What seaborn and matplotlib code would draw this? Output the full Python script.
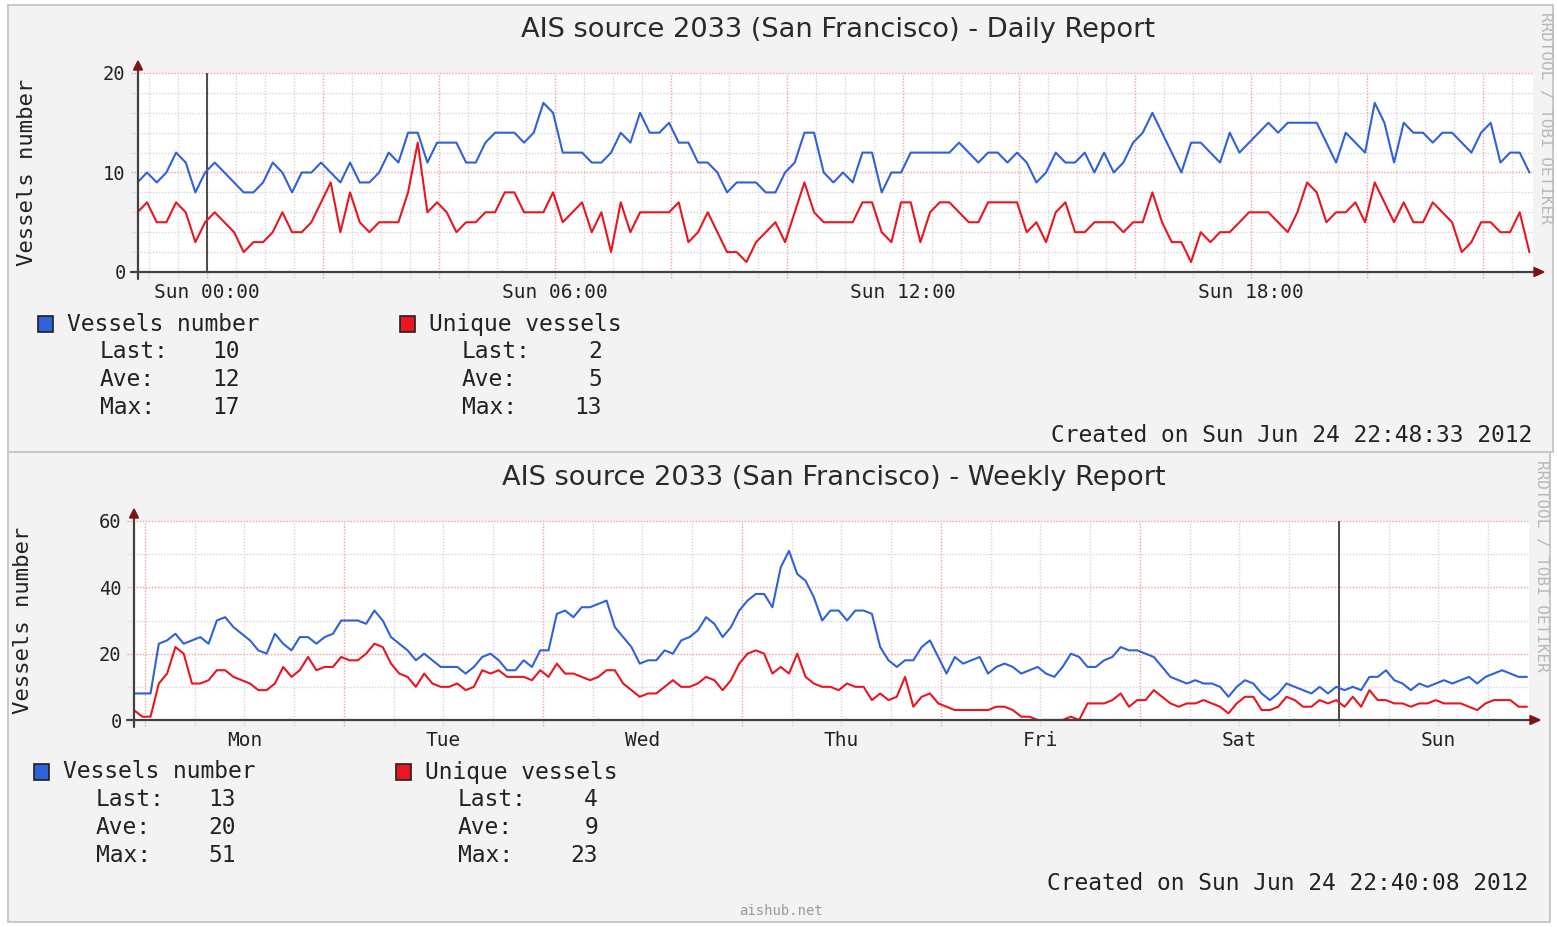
import numpy as np
import pandas as pd
import matplotlib
matplotlib.use("Agg")
import matplotlib.pyplot as plt
import seaborn as sns
from matplotlib.patches import Rectangle, Polygon
from matplotlib.lines import Line2D

# ------------------------------------------------------------------
# Daily report: 10-minute samples, Sat 22:48 -> Sun 22:48
# ------------------------------------------------------------------
daily_vessels = [
    9, 10, 9, 10, 12, 11, 8, 10, 11, 10, 9, 8, 8, 9, 11, 10, 8, 10, 10, 11,
    10, 9, 11, 9, 9, 10, 12, 11, 14, 14, 11, 13, 13, 13, 11, 11, 13, 14, 14, 14,
    13, 14, 17, 16, 12, 12, 12, 11, 11, 12, 14, 13, 16, 14, 14, 15, 13, 13, 11, 11,
    10, 8, 9, 9, 9, 8, 8, 10, 11, 14, 14, 10, 9, 10, 9, 12, 12, 8, 10, 10,
    12, 12, 12, 12, 12, 13, 12, 11, 12, 12, 11, 12,
    11, 9, 10, 12, 11, 11, 12, 10, 12, 10, 11, 13, 14, 16, 14, 12, 10, 13, 13, 12,
    11, 14, 12, 13, 14, 15, 14, 15, 15, 15, 15, 13, 11, 14, 13, 12, 17, 15, 11, 15,
    14, 14, 13, 14, 14, 13, 12, 14, 15, 11, 12, 12, 10,
]
daily_unique = [
    6, 7, 5, 5, 7, 6, 3, 5, 6, 5, 4, 2, 3, 3, 4, 6, 4, 4, 5, 7,
    9, 4, 8, 5, 4, 5, 5, 5, 8, 13, 6, 7, 6, 4, 5, 5, 6, 6, 8, 8,
    6, 6, 6, 8, 5, 6, 7, 4, 6, 2, 7, 4, 6, 6, 6, 6, 7, 3, 4, 6,
    4, 2, 2, 1, 3, 4, 5, 3, 6, 9, 6, 5, 5, 5, 5, 7, 7, 4, 3, 7,
    7, 3, 6, 7, 7, 6, 5, 5, 7, 7, 7, 7,
    4, 5, 3, 6, 7, 4, 4, 5, 5, 5, 4, 5, 5, 8, 5, 3, 3, 1, 4, 3,
    4, 4, 5, 6, 6, 6, 5, 4, 6, 9, 8, 5, 6, 6, 7, 5, 9, 7, 5, 7,
    5, 5, 7, 6, 5, 2, 3, 5, 5, 4, 4, 6, 2,
]
daily_start_hour = -1.2          # hours relative to Sun 00:00
daily_step_hours = 1 / 6
daily_tick_hours = [0, 6, 12, 18]
daily_tick_labels = ["Sun 00:00", "Sun 06:00", "Sun 12:00", "Sun 18:00"]
daily_vessels_stats = [10, 12, 17]
daily_unique_stats = [2, 5, 13]
daily_title = "AIS source 2033 (San Francisco) - Daily Report"
daily_created = "Created on Sun Jun 24 22:48:33 2012"

# ------------------------------------------------------------------
# Weekly report: hourly samples, Sun 22:40 -> Sun 22:40
# ------------------------------------------------------------------
weekly_vessels = [
    8, 8, 8, 23, 24, 26, 23, 24, 25, 23, 30, 31, 28, 26, 24, 21, 20, 26, 23, 21,
    25, 25, 23, 25, 26, 30, 30, 30, 29, 33, 30, 25, 23, 21, 18, 20, 18, 16, 16, 16,
    14, 16, 19, 20, 18, 15, 15,
    18, 16, 21, 21, 32, 33, 31, 34, 34, 35, 36, 28, 25, 22, 17, 18, 18, 21, 20, 24,
    25, 27, 31, 29, 25, 28, 33, 36, 38, 38, 34, 46, 51, 44, 42, 37, 30, 33, 33, 30,
    33, 33, 32, 22, 18, 16, 18, 18, 22, 24, 19, 14, 19, 17, 18, 19, 14, 16, 17, 16,
    14, 15, 16, 14, 13, 16, 20, 19, 16, 16, 18, 19, 22, 21, 21, 20, 19, 16, 13, 12,
    11, 12, 11, 11, 10, 7, 10, 12, 11, 8, 6, 8, 11, 10, 9, 8, 10, 8, 10, 9,
    10, 9, 13, 13, 15, 12, 11, 9, 11, 10, 11, 12, 11, 12, 13, 11, 13, 14, 15, 14,
    13, 13,
]
weekly_unique = [
    3, 1, 1, 11, 14, 22, 20, 11, 11, 12, 15, 15, 13, 12, 11, 9, 9, 11, 16, 13,
    15, 19, 15, 16, 16, 19, 18, 18, 20, 23, 22, 17, 14, 13, 10, 14, 11, 10, 10, 11,
    9, 10, 15, 14, 15, 13, 13,
    13, 12, 15, 13, 17, 14, 14, 13, 12, 13, 15, 15, 11, 9, 7, 8, 8, 10, 12, 10,
    10, 11, 13, 12, 9, 12, 17, 20, 21, 20, 14, 16, 14, 20, 13, 11, 10, 10, 9, 11,
    10, 10, 6, 8, 6, 7, 13, 4, 7, 8, 5, 4, 3, 3, 3, 3, 3, 4, 4, 3,
    1, 1, 0, 0, 0, 0, 1, 0, 5, 5, 5, 6, 8, 4, 6, 6, 9, 7, 5, 4,
    5, 5, 6, 5, 4, 2, 5, 7, 7, 3, 3, 4, 7, 6, 4, 4, 6, 5, 6, 4,
    7, 4, 9, 6, 6, 5, 5, 4, 5, 5, 6, 5, 5, 5, 4, 3, 5, 6, 6, 6,
    4, 4,
]
weekly_start_hour = -4 / 3       # hours relative to Mon 00:00
weekly_step_hours = 1.0
weekly_day_labels = ["Mon", "Tue", "Wed", "Thu", "Fri", "Sat", "Sun"]
weekly_vessels_stats = [13, 20, 51]
weekly_unique_stats = [4, 9, 23]
weekly_title = "AIS source 2033 (San Francisco) - Weekly Report"
weekly_created = "Created on Sun Jun 24 22:40:08 2012"

series_names = ["Vessels number", "Unique vessels"]
stat_names = ["Last:", "Ave:", "Max:"]
y_label = "Vessels number"
side_credit = "RRDTOOL / TOBI OETIKER"
footer = "aishub.net"

# ------------------------------------------------------------------
W, H = 1557, 927
BLUE = "#2f62d8"
RED = "#e81620"
MINOR = "#d6d6d6"
MAJOR = "#f0a0a0"
PANEL_BG = "#f3f3f3"
PANEL_EDGE = "#c8c8c8"
AXIS = "#404040"
ARROW = "#7a1414"
TEXT = "#222222"
MONO = "DejaVu Sans Mono"
SANS = "DejaVu Sans"

sns.set_style("white")
plt.rcParams["font.family"] = ["DejaVu Sans"]


def fx(x):
    return x / W


def fy(y):
    return 1 - y / H


fig = plt.figure(figsize=(W / 100, H / 100), dpi=100)
fig.patch.set_facecolor("white")


def panel_box(x0, y0, x1, y1):
    fig.add_artist(Rectangle((fx(x0), fy(y1)), fx(x1) - fx(x0),
                             fy(y0) - fy(y1), transform=fig.transFigure,
                             facecolor=PANEL_BG, edgecolor=PANEL_EDGE, lw=1.4,
                             zorder=0))


def draw_panel(dx, dy, title, hours, vessels, unique, xlim_px,
               xlim_h, ymax, ystep_minor, ystep_major, ylabels,
               vminor, vmajor, vblack, tick_pos, tick_labels,
               v_stats, u_stats, created):
    left, right = xlim_px
    top, bottom = 73 + dy, 272 + dy
    ax = fig.add_axes([fx(left), fy(bottom), fx(right) - fx(left),
                       fy(top) - fy(bottom)])
    ax.set_facecolor("white")
    ax.set_xlim(*xlim_h)
    ax.set_ylim(0, ymax)
    for s in ax.spines.values():
        s.set_visible(False)

    ax_w = right - left
    ax_h = bottom - top
    dots = (0, (1, 1.2))
    # horizontal grid
    for v in np.arange(ystep_minor, ymax + 1e-9, ystep_minor):
        major = abs(v / ystep_major - round(v / ystep_major)) < 1e-9
        ax.axhline(v, xmin=-7 / ax_w, xmax=1, color=MAJOR if major else MINOR,
                   lw=1.0, ls=dots, zorder=1, clip_on=False)
    # vertical grid
    start = np.ceil(xlim_h[0] / vminor) * vminor
    for h in np.arange(start, xlim_h[1], vminor):
        major = abs(h / vmajor - round(h / vmajor)) < 1e-9
        ax.axvline(h, ymin=-6 / ax_h, ymax=1, color=MAJOR if major else MINOR,
                   lw=1.0, ls=dots, zorder=1, clip_on=False)
    ax.axvline(vblack, color="#303030", lw=1.2, zorder=2)

    df = pd.DataFrame({"hour": hours, "vessels": vessels, "unique": unique})
    sns.lineplot(data=df, x="hour", y="unique", ax=ax, color=RED, lw=1.5,
                 zorder=4, legend=False)
    sns.lineplot(data=df, x="hour", y="vessels", ax=ax, color=BLUE, lw=1.5,
                 zorder=3, legend=False)
    ax.set_xlabel("")
    ax.set_ylabel("")

    ax.set_yticks(ylabels)
    ax.set_yticklabels([str(v) for v in ylabels], family=MONO, fontsize=13.5,
                       color=TEXT)
    ax.set_xticks(tick_pos)
    ax.set_xticklabels(tick_labels, family=MONO, fontsize=14, color=TEXT)
    ax.tick_params(axis="both", length=0)
    ax.tick_params(axis="y", pad=9)
    ax.tick_params(axis="x", pad=8)

    # axis lines with arrows
    fig.add_artist(Line2D([fx(left - 7), fx(right + 3)], [fy(bottom)] * 2,
                          transform=fig.transFigure, color=AXIS, lw=1.6, zorder=5))
    fig.add_artist(Line2D([fx(left)] * 2, [fy(bottom + 7), fy(top - 5)],
                          transform=fig.transFigure, color=AXIS, lw=1.6, zorder=5))
    fig.add_artist(Polygon([[fx(right + 1), fy(bottom - 4.5)],
                            [fx(right + 11), fy(bottom)],
                            [fx(right + 1), fy(bottom + 4.5)]],
                           closed=True, transform=fig.transFigure,
                           facecolor=ARROW, edgecolor=ARROW, zorder=6))
    fig.add_artist(Polygon([[fx(left - 4.5), fy(top - 3)],
                            [fx(left), fy(top - 12)],
                            [fx(left + 4.5), fy(top - 3)]],
                           closed=True, transform=fig.transFigure,
                           facecolor=ARROW, edgecolor=ARROW, zorder=6))

    # texts
    fig.text(fx(838 + dx), fy(30 + dy), title, ha="center", va="center",
             fontsize=19.6, family=SANS, color="#2a2a2a")
    fig.text(fx(27 + dx), fy(172 + dy), y_label, rotation=90, ha="center",
             va="center", fontsize=16, family=MONO, color=TEXT)
    fig.text(fx(1545 + dx), fy(12 + dy), side_credit, rotation=270,
             ha="center", va="top", fontsize=11.5, family=MONO, color="#b8b8b8")

    # legend
    for col, (name, color, stats) in enumerate(
            [(series_names[0], BLUE, v_stats), (series_names[1], RED, u_stats)]):
        ox = 362 * col
        fig.add_artist(Rectangle((fx(38 + ox + dx), fy(332 + dy)),
                                 fx(15) - fx(0), fy(0) - fy(16),
                                 transform=fig.transFigure, facecolor=color,
                                 edgecolor="#202020", lw=1.2, zorder=5))
        fig.text(fx(67 + ox + dx), fy(324 + dy), name, ha="left", va="center",
                 fontsize=16.5, family=MONO, color=TEXT)
        for r, (lab, val) in enumerate(zip(stat_names, stats)):
            yy = 351 + 28 * r + dy
            fig.text(fx(100 + ox + dx), fy(yy), lab, ha="left", va="center",
                     fontsize=16.5, family=MONO, color=TEXT)
            fig.text(fx(240 + ox + dx), fy(yy), str(val), ha="right",
                     va="center", fontsize=16.5, family=MONO, color=TEXT)
    fig.text(fx(1532 + dx), fy(435 + dy), created, ha="right", va="center",
             fontsize=16.5, family=MONO, color=TEXT)
    return ax


# panel frames
panel_box(8, 452, 1550, 922)
panel_box(8, 5, 1553, 452)

# Daily panel
d_hours = daily_start_hour + daily_step_hours * np.arange(len(daily_vessels))
d_left, d_right = 138, 1533
d_xlim = ((d_left - 207) / 58, (d_right - 207) / 58)
draw_panel(0, 0, daily_title, d_hours, daily_vessels, daily_unique,
           (d_left, d_right), d_xlim, 20, 2, 10, [0, 10, 20],
           0.5, 2, 0, daily_tick_hours, daily_tick_labels,
           daily_vessels_stats, daily_unique_stats, daily_created)

# Weekly panel
w_hours = weekly_start_hour + weekly_step_hours * np.arange(len(weekly_vessels))
px_per_hour = 199 / 24
w_left, w_right = 134, 1529
w_xlim = ((w_left - 145) / px_per_hour, (w_right - 145) / px_per_hour)
draw_panel(-4, 448, weekly_title, w_hours, weekly_vessels, weekly_unique,
           (w_left, w_right), w_xlim, 60, 10, 20, [0, 20, 40, 60],
           6, 24, 144, [12 + 24 * k for k in range(7)], weekly_day_labels,
           weekly_vessels_stats, weekly_unique_stats, weekly_created)

fig.text(fx(781), fy(911), footer, ha="center", va="center", fontsize=10,
         family=MONO, color="#9a9a9a")

fig.savefig("out.png", dpi=100, facecolor=fig.get_facecolor())
